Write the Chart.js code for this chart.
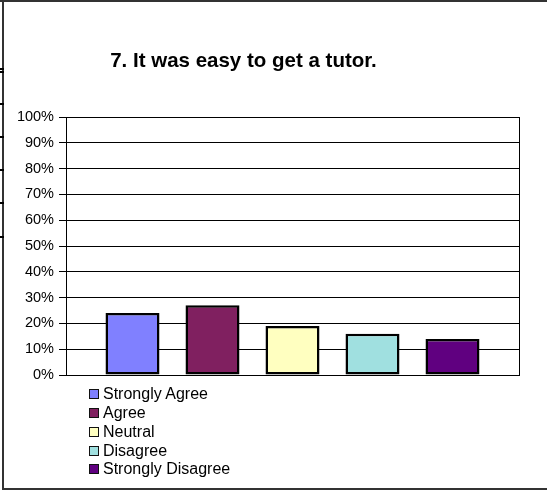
<!DOCTYPE html>
<html>
<head>
<meta charset="utf-8">
<script src="https://cdn.jsdelivr.net/npm/chart.js@4/dist/chart.umd.min.js"></script>
<style>
  html, body { margin: 0; padding: 0; background: #fff; }
  #wrap { position: relative; width: 547px; height: 491px; }
  #legend { position: absolute; left: 89px; top: 385px; font-family: "Liberation Sans", Arial, sans-serif; font-size: 16px; color: #000; }
  .item { height: 18.75px; display: flex; align-items: center; white-space: nowrap; }
  .box { width: 8px; height: 8px; border: 1.6px solid #111; margin-right: 4px; box-sizing: content-box; }
</style>
</head>
<body>
<div id="wrap">
  <canvas id="c" width="547" height="491"></canvas>
  <div id="legend"></div>
</div>
<script>
const chartTitle = "7. It was easy to get a tutor.";
const seriesNames = ["Strongly Agree", "Agree", "Neutral", "Disagree", "Strongly Disagree"];
const seriesValues = [24, 27, 19, 16, 14];
const seriesColors = ["#8080FF", "#802060", "#FFFFC0", "#A0E0E0", "#600080"];
const yTicks = [0, 10, 20, 30, 40, 50, 60, 70, 80, 90, 100];

const datasets = seriesNames.map((n, i) => ({
  label: n,
  data: [seriesValues[i]],
  backgroundColor: seriesColors[i],
  borderColor: "#000",
  borderWidth: 2.5,
  borderSkipped: false,
  categoryPercentage: 0.883,
  barPercentage: 0.675
}));

const framePlugin = {
  id: "frame",
  afterDraw(chart) {
    const ctx = chart.ctx;
    const a = chart.chartArea;
    ctx.save();
    ctx.strokeStyle = "#000";
    ctx.lineWidth = 1;
    ctx.strokeRect(Math.round(a.left) + 0.5, Math.round(a.top) + 0.5, Math.round(a.right - a.left), Math.round(a.bottom - a.top));
    ctx.strokeStyle = "#333";
    ctx.lineWidth = 2;
    ctx.beginPath();
    ctx.moveTo(0, 1); ctx.lineTo(547, 1);
    ctx.moveTo(3, 0); ctx.lineTo(3, 490);
    ctx.moveTo(2, 489); ctx.lineTo(547, 489);
    ctx.stroke();
    ctx.strokeStyle = "#000";
    ctx.lineWidth = 2;
    ctx.beginPath();
    [69, 72, 104, 137, 170, 203, 237].forEach(y => { ctx.moveTo(0, y); ctx.lineTo(4, y); });
    ctx.stroke();
    ctx.fillStyle = "#000";
    ctx.font = "bold 20.5px 'Liberation Sans', Arial, sans-serif";
    ctx.textAlign = "center";
    ctx.textBaseline = "alphabetic";
    ctx.fillText(chartTitle, 243.5, 67);
    ctx.restore();
  }
};

new Chart(document.getElementById("c"), {
  type: "bar",
  data: { labels: [""], datasets },
  options: {
    responsive: false,
    animation: false,
    layout: { padding: { top: 117, right: 28, bottom: 116, left: 0 } },
    plugins: { legend: { display: false }, title: { display: false }, tooltip: { enabled: false } },
    scales: {
      x: {
        ticks: { display: false },
        grid: { display: false, drawTicks: false },
        border: { display: true, color: "#000" },
        afterFit(s) { s.height = 0; }
      },
      y: {
        min: 0, max: 100,
        afterBuildTicks(s) { s.ticks = yTicks.map(v => ({ value: v })); },
        ticks: {
          padding: 5,
          color: "#000",
          font: { family: "'Liberation Sans', Arial, sans-serif", size: 14.5 },
          callback: v => v + "%"
        },
        grid: { color: "#000", lineWidth: 1, tickLength: 7, drawTicks: true },
        border: { display: true, color: "#000" },
        afterFit(s) { s.width = 66; }
      }
    }
  },
  plugins: [framePlugin]
});

const leg = document.getElementById("legend");
seriesNames.forEach((n, i) => {
  const it = document.createElement("div");
  it.className = "item";
  const b = document.createElement("span");
  b.className = "box";
  b.style.background = seriesColors[i];
  const t = document.createElement("span");
  t.textContent = n;
  it.appendChild(b); it.appendChild(t);
  leg.appendChild(it);
});
</script>
</body>
</html>
